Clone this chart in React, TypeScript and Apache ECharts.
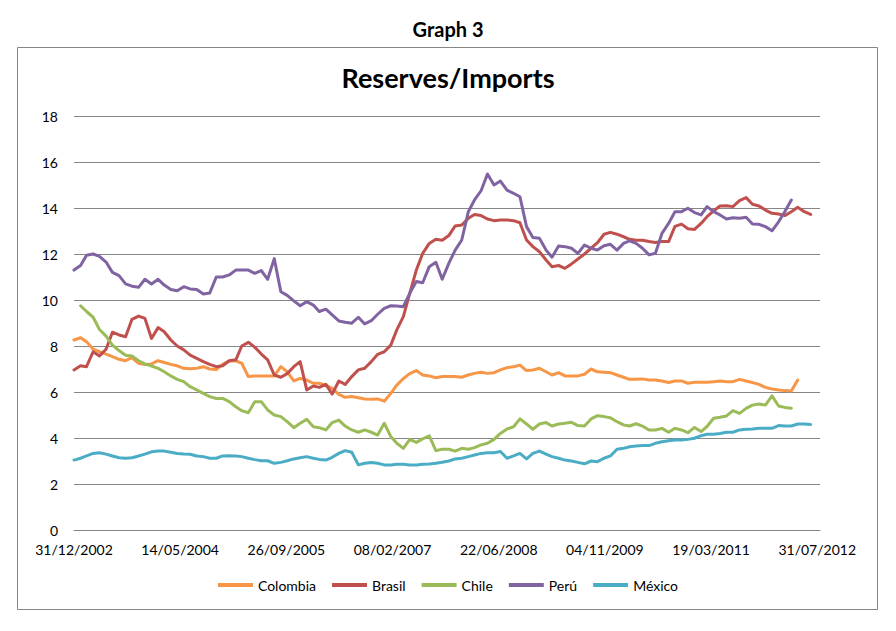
import React, { useEffect, useRef } from "react";
import * as echarts from "echarts";

// Monthly data, end of month, first month = Dec 2002
const START = Date.UTC(2002, 11, 31);
const DAY = 86400000;

const seriesNames = ["Colombia", "Brasil", "Chile", "Perú", "México"];
const seriesColors = ["#F79646", "#C0504D", "#9BBB59", "#8064A2", "#4BACC6"];
// month offset (from Dec 2002) of each series' first value
const seriesStart = [0, 0, 1, 0, 0];

const colombia = [
  8.26, 8.36, 8.19, 7.86, 7.75, 7.65, 7.54, 7.42, 7.36, 7.49, 7.25, 7.2, 7.22, 7.36, 7.28, 7.2,
  7.14, 7.03, 7.01, 7.03, 7.1, 7.0, 6.98, 7.2, 7.35, 7.35, 7.25, 6.67, 6.7, 6.7, 6.7, 6.7,
  7.1, 6.88, 6.48, 6.59, 6.52, 6.38, 6.38, 6.3, 6.16, 5.9, 5.77, 5.8, 5.75, 5.7, 5.68, 5.7,
  5.6, 5.94, 6.3, 6.59, 6.8, 6.93, 6.74, 6.7, 6.62, 6.67, 6.67, 6.67, 6.64, 6.74, 6.81, 6.86,
  6.81, 6.84, 6.96, 7.06, 7.1, 7.17, 6.93, 6.96, 7.03, 6.88, 6.74, 6.84, 6.7, 6.7, 6.7, 6.77,
  7.0, 6.88, 6.86, 6.84, 6.74, 6.64, 6.55, 6.55, 6.57, 6.52, 6.52, 6.48, 6.41, 6.48, 6.48, 6.38,
  6.42, 6.42, 6.42, 6.45, 6.48, 6.45, 6.45, 6.55, 6.48, 6.41, 6.33, 6.2, 6.13, 6.09, 6.06, 6.04,
  6.52,
];

const brasil = [
  6.96, 7.14, 7.1, 7.75, 7.57, 7.86, 8.6, 8.48, 8.4, 9.16, 9.3, 9.2, 8.33, 8.8, 8.62, 8.26,
  8.0, 7.83, 7.6, 7.46, 7.32, 7.2, 7.1, 7.14, 7.36, 7.4, 8.0, 8.16, 7.95, 7.65, 7.4, 6.74,
  6.64, 6.8, 7.1, 7.32, 6.09, 6.26, 6.2, 6.33, 5.91, 6.48, 6.33, 6.67, 6.96, 7.03, 7.32, 7.64,
  7.75, 8.04, 8.7, 9.28, 10.29, 11.3, 12.03, 12.46, 12.64, 12.6, 12.8, 13.22, 13.26, 13.55, 13.72, 13.67,
  13.52, 13.45, 13.48, 13.48, 13.45, 13.36, 12.61, 12.32, 12.1, 11.74, 11.45, 11.5, 11.38, 11.57, 11.78, 12.0,
  12.25, 12.49, 12.86, 12.94, 12.86, 12.75, 12.64, 12.6, 12.6, 12.54, 12.5, 12.54, 12.54, 13.2, 13.3, 13.1,
  13.07, 13.33, 13.62, 13.87, 14.09, 14.1, 14.06, 14.32, 14.45, 14.16, 14.09, 13.91, 13.77, 13.74, 13.67, 13.84,
  14.03, 13.84, 13.72,
];

const chile = [
  9.75, 9.5, 9.25, 8.72, 8.43, 8.04, 7.8, 7.6, 7.57, 7.36, 7.22, 7.13, 7.03, 6.88, 6.7,
  6.55, 6.45, 6.23, 6.09, 5.94, 5.8, 5.72, 5.72, 5.58, 5.36, 5.19, 5.1, 5.58, 5.58, 5.22, 5.0,
  4.93, 4.71, 4.45, 4.64, 4.81, 4.49, 4.45, 4.35, 4.67, 4.78, 4.52, 4.35, 4.25, 4.35, 4.25, 4.13,
  4.64, 4.06, 3.77, 3.55, 3.94, 3.81, 3.96, 4.09, 3.45, 3.51, 3.51, 3.43, 3.55, 3.51, 3.58, 3.7,
  3.77, 3.94, 4.2, 4.39, 4.49, 4.83, 4.61, 4.38, 4.61, 4.67, 4.52, 4.61, 4.64, 4.68, 4.54, 4.52,
  4.83, 4.97, 4.93, 4.88, 4.71, 4.57, 4.52, 4.62, 4.52, 4.35, 4.35, 4.42, 4.25, 4.42, 4.35, 4.23,
  4.46, 4.28, 4.5, 4.86, 4.9, 4.96, 5.19, 5.07, 5.29, 5.43, 5.48, 5.43, 5.83, 5.39, 5.33, 5.29,
];

const peru = [
  11.3, 11.5, 11.95, 12.0, 11.9, 11.65, 11.2, 11.06, 10.7, 10.6, 10.55, 10.9, 10.7, 10.9, 10.65, 10.46,
  10.4, 10.58, 10.48, 10.46, 10.26, 10.3, 11.0, 11.0, 11.09, 11.3, 11.3, 11.3, 11.16, 11.28, 10.9, 11.8,
  10.36, 10.2, 9.96, 9.75, 9.93, 9.78, 9.5, 9.6, 9.35, 9.09, 9.03, 8.99, 9.25, 8.96, 9.1, 9.38,
  9.64, 9.75, 9.74, 9.71, 10.29, 10.8, 10.75, 11.45, 11.64, 10.9, 11.59, 12.17, 12.61, 13.84, 14.35, 14.75,
  15.48, 15.0, 15.17, 14.78, 14.64, 14.49, 13.19, 12.72, 12.68, 12.17, 11.86, 12.35, 12.32, 12.25, 12.03, 12.39,
  12.25, 12.17, 12.36, 12.42, 12.17, 12.46, 12.57, 12.46, 12.25, 11.96, 12.03, 12.9, 13.33, 13.84, 13.84, 13.99,
  13.8, 13.7, 14.06, 13.84, 13.7, 13.52, 13.58, 13.55, 13.6, 13.3, 13.29, 13.19, 13.01, 13.4, 13.84, 14.35,
];

const mexico = [
  3.04, 3.12, 3.22, 3.33, 3.36, 3.3, 3.22, 3.14, 3.12, 3.14, 3.22, 3.3, 3.4, 3.43, 3.43, 3.38,
  3.33, 3.3, 3.29, 3.22, 3.19, 3.12, 3.12, 3.22, 3.23, 3.22, 3.19, 3.12, 3.06, 3.01, 3.01, 2.9,
  2.94, 3.01, 3.09, 3.14, 3.19, 3.12, 3.07, 3.04, 3.16, 3.33, 3.45, 3.38, 2.83, 2.9, 2.93, 2.9,
  2.83, 2.83, 2.86, 2.86, 2.83, 2.83, 2.86, 2.87, 2.9, 2.95, 3.0, 3.09, 3.12, 3.19, 3.26, 3.33,
  3.36, 3.36, 3.41, 3.12, 3.22, 3.33, 3.09, 3.33, 3.43, 3.3, 3.19, 3.12, 3.04, 3.0, 2.94, 2.88,
  3.0, 2.97, 3.12, 3.22, 3.51, 3.55, 3.62, 3.65, 3.67, 3.67, 3.77, 3.84, 3.88, 3.91, 3.91, 3.94,
  3.99, 4.1, 4.16, 4.16, 4.2, 4.25, 4.25, 4.35, 4.38, 4.39, 4.42, 4.42, 4.42, 4.54, 4.52, 4.52,
  4.61, 4.61, 4.59,
];

const seriesValues = [colombia, brasil, chile, peru, mexico];

// x axis: days since 31/12/2002, labelled every 500 days
const X_MAX_DAYS = 3513;
const X_STEP_DAYS = 500;
const Y_MAX = 18;
const Y_STEP = 2;

const FONT = "Lato, 'Open Sans', sans-serif";

function monthEndDay(m: number): number {
  return Math.round((Date.UTC(2003, m, 0) - START) / DAY);
}

function fmtDay(d: number): string {
  const dt = new Date(START + d * DAY);
  const dd = String(dt.getUTCDate()).padStart(2, "0");
  const mm = String(dt.getUTCMonth() + 1).padStart(2, "0");
  return `${dd}/${mm}/${dt.getUTCFullYear()}`;
}

export default function App() {
  const ref = useRef<HTMLDivElement>(null);

  useEffect(() => {
    if (!ref.current) return;
    const chart = echarts.init(ref.current, null, { renderer: "svg" });

    const series = seriesNames.map((name, i) => ({
      name,
      type: "line" as const,
      data: seriesValues[i].map((v, k) => [monthEndDay(seriesStart[i] + k), v]),
      showSymbol: false,
      symbol: "none",
      lineStyle: { width: 3, color: seriesColors[i], cap: "round", join: "round" },
      itemStyle: { color: seriesColors[i] },
      emphasis: { disabled: true },
    }));

    chart.setOption({
      animation: false,
      backgroundColor: "#ffffff",
      title: [
        {
          text: "Graph 3",
          left: "center",
          top: 14,
          textStyle: { fontFamily: FONT, fontSize: 20, fontWeight: "bold", color: "#000" },
        },
        {
          text: "Reserves/Imports",
          left: "center",
          top: 59,
          textStyle: { fontFamily: FONT, fontSize: 27, fontWeight: "bold", color: "#000" },
        },
      ],
      graphic: [
        {
          type: "rect",
          silent: true,
          z: -10,
          shape: { x: 17.5, y: 47.5, width: 860, height: 562 },
          style: { fill: "none", stroke: "#868686", lineWidth: 1 },
        },
      ],
      legend: {
        data: seriesNames,
        left: "center",
        top: 573,
        icon: "rect",
        itemWidth: 35,
        itemHeight: 4,
        itemGap: 16,
        textStyle: { fontFamily: FONT, fontSize: 14, color: "#000" },
      },
      grid: { left: 74, right: 76, top: 116, bottom: 101, containLabel: false },
      xAxis: {
        type: "value",
        min: 0,
        max: X_MAX_DAYS,
        interval: X_STEP_DAYS,
        splitLine: { show: false },
        axisTick: { show: false },
        axisLine: { show: true, lineStyle: { color: "#868686", width: 1 } },
        axisLabel: {
          margin: 12,
          fontFamily: FONT,
          fontSize: 14,
          color: "#000",
          formatter: (v: number) => (v % X_STEP_DAYS === 0 ? fmtDay(v) : ""),
        },
      },
      yAxis: {
        type: "value",
        min: 0,
        max: Y_MAX,
        interval: Y_STEP,
        axisLine: { show: false },
        axisTick: { show: false },
        splitLine: { show: true, lineStyle: { color: "#868686", width: 1 } },
        axisLabel: { margin: 16, fontFamily: FONT, fontSize: 14, color: "#000" },
      },
      series,
    });

    return () => chart.dispose();
  }, []);

  return (
    <div
      ref={ref}
      style={{ position: "fixed", left: 0, top: 0, width: 896, height: 631, background: "#fff" }}
    />
  );
}
